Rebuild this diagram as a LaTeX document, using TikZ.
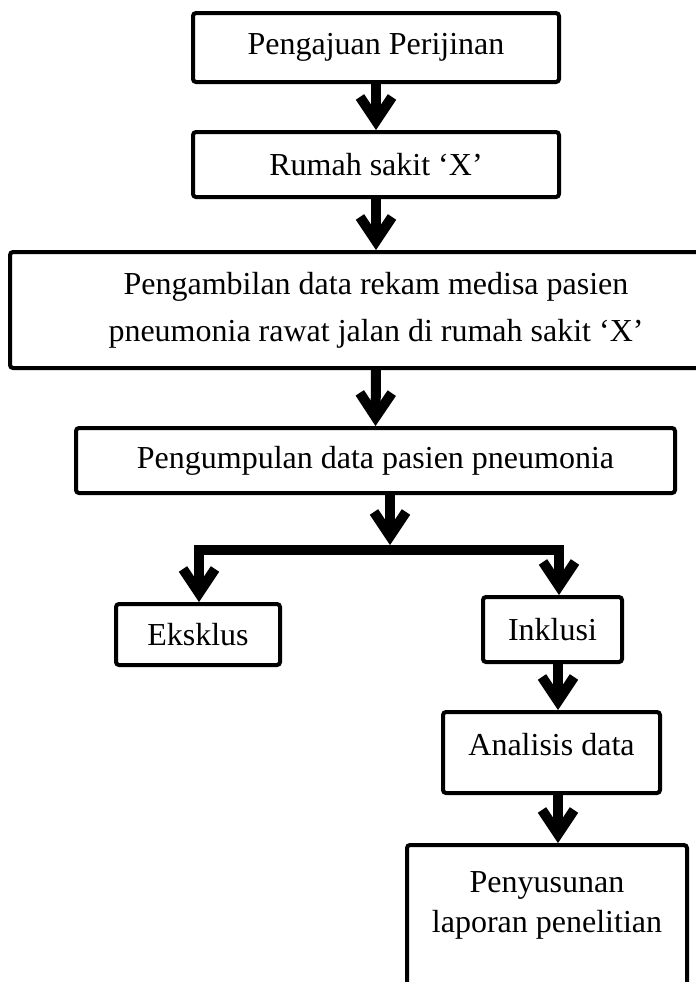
\documentclass[tikz,border=0pt]{standalone}
\usepackage{fontspec}
\setmainfont{Liberation Serif}
\usetikzlibrary{arrows.meta}

\begin{document}
\begin{tikzpicture}[x=0.5pt,y=-0.5pt,
        >={Straight Barb[length=12pt,width=16pt,line width'=5pt]},
        box/.style={draw,line width=2pt,rounded corners=1.5pt,inner sep=0pt,align=center,
            font=\fontsize{16}{23.5}\selectfont},
        link/.style={line width=5pt}]
        \useasboundingbox (0,0) rectangle (696,982);

        \node[box,minimum width=183pt,minimum height=34.5pt] (aju) at (376,47.5) {Pengajuan Perijinan};
        \node[box,minimum width=183pt,minimum height=32.5pt] (rs) at (376,164.5) {Rumah sakit ‘X’};
        \node[box,minimum width=366pt,minimum height=58pt] (ambil) at (376,310)
            {Pengambilan data rekam medisa pasien\\pneumonia rawat jalan di rumah sakit ‘X’};
        \node[box,minimum width=299.5pt,minimum height=32.5pt] (kumpul) at (375.5,460.5) {Pengumpulan data pasien pneumonia};
        \node[box,minimum width=82pt,minimum height=30.5pt] (eks) at (198,634.5) {Eksklus};
        \node[box,minimum width=69.5pt,minimum height=32.5pt] (ink) at (552.5,629.5) {Inklusi};
        \node[box,minimum width=108.5pt,minimum height=40.5pt,text depth=8.5pt] (anal) at (551.5,752.5) {Analisis data};
        \node[box,anchor=north,minimum width=140pt,text height=43.5pt,text depth=40pt] (susun) at (547,843)
            {Penyusunan\\[-3.5pt]laporan penelitian};

        \draw[link,->] (aju) -- (rs);
        \draw[link,->] (rs) -- (ambil);
        \draw[link,->] (ambil.south) -- (kumpul.north);

        % cabang eksklusi / inklusi
        \coordinate (jm) at (390,550);
        \coordinate (jl) at (199,550);
        \coordinate (jr) at (559,550);
        \draw[link,->,shorten >=2.5pt] (kumpul.south -| jm) -- (jm);
        \draw[link,->] (jr) -- (jl) -- (eks.north -| jl);
        \draw[link,->] (jl) -- (jr) -- (ink.north -| jr);

        \coordinate (ax) at (558,0);
        \draw[link,->] (ink.south -| ax) -- (anal.north -| ax);
        \draw[link,->] (anal.south -| ax) -- (susun.north -| ax);
    \end{tikzpicture}
\end{document}
